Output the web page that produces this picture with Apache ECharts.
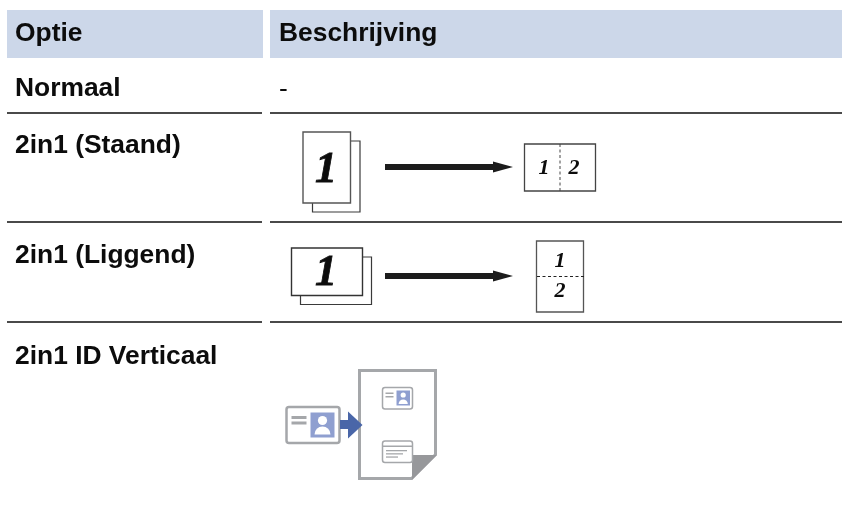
<!DOCTYPE html>
<html><head><meta charset="utf-8">
<style>html,body{margin:0;padding:0;background:#fff}#c{width:842px;height:508px}</style>
<script src="https://cdn.jsdelivr.net/npm/echarts@6/dist/echarts.min.js"></script>
</head><body><div id="c"></div>
<script>
const headers = ['Optie', 'Beschrijving'];
const options = ['Normaal', '2in1 (Staand)', '2in1 (Liggend)', '2in1 ID Verticaal'];
const normalDescription = '-';
const pageLabels = ['1', '2'];

const F = 'Liberation Sans', S = 'Liberation Serif';
const els = [];
const rect = (x, y, w, h, fill, stroke, lw, r) => els.push({type:'rect', shape:{x, y, width:w, height:h, r:r||0}, style:{fill:fill||'none', stroke:stroke||null, lineWidth:lw||0}});
const txt = (x, y, t, font, size, weight, style, align, bold) => els.push({type:'text', x, y, style:{text:t, fontFamily:font, fontSize:size, fontWeight:weight||'normal', fontStyle:style||'normal', fill:'#0c0c0c', stroke:bold?'#0c0c0c':null, lineWidth:bold||0, align:align||'left', verticalAlign:'middle'}});
const poly = (pts, fill) => els.push({type:'polygon', shape:{points:pts}, style:{fill}});
const line = (x1, y1, x2, y2, c, lw, dash) => els.push({type:'line', shape:{x1, y1, x2, y2}, style:{stroke:c, lineWidth:lw, lineDash:dash||null}});
const circle = (cx, cy, r, fill) => els.push({type:'circle', shape:{cx, cy, r}, style:{fill}});
const dome = (cx, cy, r, fill) => els.push({type:'sector', shape:{cx, cy, r, r0:0, startAngle:Math.PI, endAngle:2*Math.PI}, style:{fill}});

// header
rect(7, 10, 256, 48, '#ccd7e9');
rect(270, 10, 572, 48, '#ccd7e9');
txt(15, 34, headers[0], F, 26.4, 'bold');
txt(279, 34, headers[1], F, 26.4, 'bold');
// rows
const rowY = [88.5, 146, 255.5, 357];
options.forEach((o, i) => txt(15, rowY[i], o, F, 26.4, 'bold'));
txt(279, 90, normalDescription, F, 26.4);
[113, 222, 322].forEach(y => { line(7, y, 262, y, '#4a4a4a', 2); line(270, y, 842, y, '#4a4a4a', 2); });

const sc = '#3a3a3a';
function arrow(y){
  rect(385, y-3, 110, 6, '#1c1c1c');
  poly([[493, y-5.5],[513, y],[493, y+5.5]], '#1c1c1c');
}
// row 2in1 (Staand)
rect(312.5, 141, 47.5, 71, '#fff', sc, 1.2);
rect(303, 132, 47.5, 71, '#fff', '#555', 1.4);
txt(326, 171, pageLabels[0], S, 44, 'bold', 'italic', 'center', 0.8);
arrow(167);
rect(524.5, 144, 71, 47, '#fff', '#444', 1.3);
line(560, 144, 560, 191, '#444', 1, [3, 2.5]);
txt(544, 168, pageLabels[0], S, 22, 'bold', 'italic', 'center');
txt(574, 168, pageLabels[1], S, 22, 'bold', 'italic', 'center');
// row 2in1 (Liggend)
rect(300.5, 257, 71, 47.5, '#fff', sc, 1.2);
rect(291.5, 248, 71, 47.5, '#fff', '#333', 1.4);
txt(326, 274, pageLabels[0], S, 44, 'bold', 'italic', 'center', 0.8);
arrow(276);
rect(536.5, 241, 47, 71, '#fff', '#555', 1.3);
line(537, 276.5, 584, 276.5, '#222', 1, [3, 2.5]);
txt(560, 261, pageLabels[0], S, 22, 'bold', 'italic', 'center');
txt(560, 291, pageLabels[1], S, 22, 'bold', 'italic', 'center');
// row ID icon
const g = '#a5a7aa';
poly([[358,369],[437,369],[437,455],[412,480],[358,480]], g);
poly([[361,372],[434,372],[434,454],[411,477],[361,477]], '#fff');
poly([[412,455],[437,455],[412,480]], '#97989b');
function card(x, y, w, h, lw){ rect(x, y, w, h, '#fff', g, lw, 2.5); }
card(382.5, 387.5, 30, 21.5, 1.5);
rect(396.5, 390.5, 13.5, 15, '#8f9fd0');
circle(403.2, 395, 2.6, '#fff');
dome(403.2, 404, 4.6, '#fff');
rect(385.5, 392.5, 8, 1.5, g); rect(385.5, 396, 8, 1.5, g);
card(382.5, 441, 30, 21.5, 1.5);
rect(383, 445.5, 29, 1.5, g);
rect(386, 450, 21, 1.3, g); rect(386, 453.2, 17, 1.3, g); rect(386, 456.4, 12, 1.3, g);
card(286.5, 407, 53, 36, 2.5);
rect(310.5, 412.5, 24, 25, '#8f9fd0');
circle(322.5, 420.5, 4.6, '#fff');
dome(322.5, 434.5, 8, '#fff');
rect(291.5, 416, 15, 3, g); rect(291.5, 421.5, 15, 3, g);
rect(340, 420, 9, 9, '#4a66a8');
poly([[348,411.5],[362.5,425],[348,438.5]], '#4a66a8');

const chart = echarts.init(document.getElementById('c'), null, {renderer:'canvas'});
chart.setOption({backgroundColor:'#fff', animation:false, graphic:{elements:els}});
</script></body></html>
